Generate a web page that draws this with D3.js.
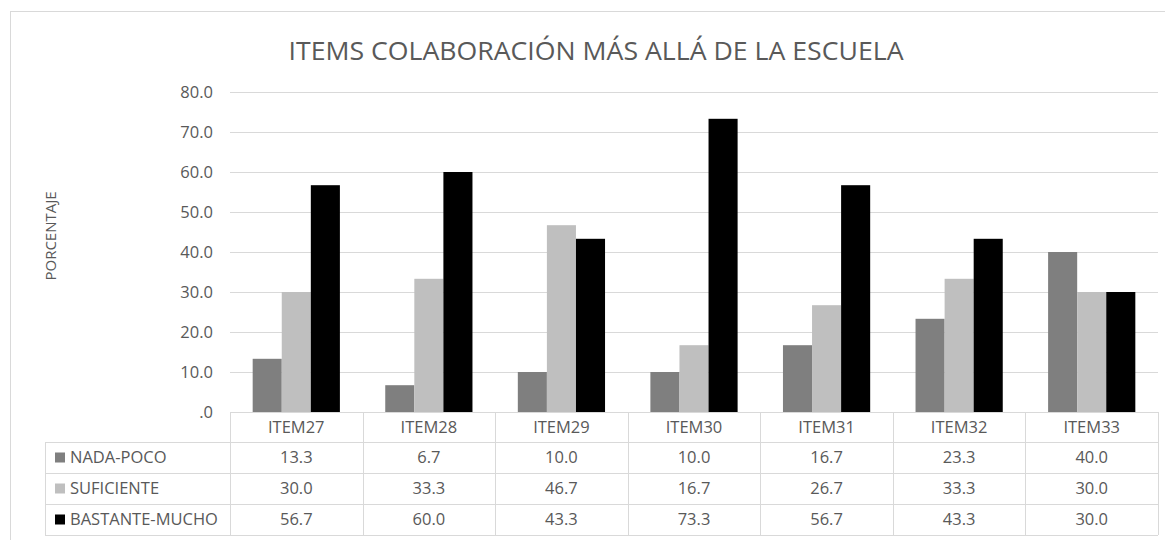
<!DOCTYPE html>
<html>
<head>
<meta charset="utf-8">
<script src="https://cdn.jsdelivr.net/npm/d3@7"></script>
<style>
  body { margin: 0; background: #fff; }
  text { font-family: "Open Sans", "Noto Sans", sans-serif; fill: #595959; }
</style>
</head>
<body>
<div id="chart"></div>
<script>
// Data
var categories = ["ITEM27", "ITEM28", "ITEM29", "ITEM30", "ITEM31", "ITEM32", "ITEM33"];
var seriesNames = ["NADA-POCO", "SUFICIENTE", "BASTANTE-MUCHO"];
var nadaPoco = [13.3, 6.7, 10.0, 10.0, 16.7, 23.3, 40.0];
var suficiente = [30.0, 33.3, 46.7, 16.7, 26.7, 33.3, 30.0];
var bastanteMucho = [56.7, 60.0, 43.3, 73.3, 56.7, 43.3, 30.0];
var yTicks = [0, 10, 20, 30, 40, 50, 60, 70, 80];

var seriesValues = [nadaPoco, suficiente, bastanteMucho];
var colors = ["#7f7f7f", "#bfbfbf", "#000000"];

var svgWidth = 1165;
var svgHeight = 540;

var plotLeft = 230, plotRight = 1158, plotTop = 92, plotBottom = 412;
var headerH = 30, rowH = 31, tableLeft = 45;

var svg = d3.select("#chart")
    .append("svg")
    .attr("width", svgWidth)
    .attr("height", svgHeight);

// chart frame (right and bottom edges fall outside the picture)
svg.append("rect")
    .attr("x", 10.5).attr("y", 11.5)
    .attr("width", svgWidth).attr("height", svgHeight)
    .attr("fill", "none")
    .attr("stroke", "#d9d9d9");

// scales
var xScale = d3.scaleBand()
    .domain(categories)
    .range([plotLeft, plotRight])
    .padding(0);

var xInner = d3.scaleBand()
    .domain(d3.range(seriesNames.length))
    .range([0, xScale.bandwidth()])
    .paddingInner(0)
    .paddingOuter(0.78);

var yScale = d3.scaleLinear()
    .domain([0, 80])
    .range([plotBottom, plotTop]);

// gridlines + y labels
var leftAxis = d3.axisLeft(yScale)
    .tickValues(yTicks)
    .tickSize(-(plotRight - plotLeft))
    .tickPadding(17)
    .tickFormat(d => d === 0 ? ".0" : d.toFixed(1));

var yAxis = svg.append("g")
    .attr("transform", `translate(${plotLeft}, 0)`)
    .call(leftAxis);
yAxis.select(".domain").remove();
yAxis.selectAll(".tick line").attr("stroke", "#d9d9d9");
yAxis.selectAll(".tick text")
    .attr("fill", "#595959")
    .style("font-size", "16.5px");

// bars
var groups = svg.selectAll(".cat")
    .data(categories)
    .enter()
    .append("g")
    .attr("transform", d => `translate(${xScale(d)}, 0)`);

groups.selectAll("rect")
    .data((d, i) => seriesValues.map((vals, s) => ({ s: s, v: vals[i] })))
    .enter()
    .append("rect")
    .attr("x", d => xInner(d.s))
    .attr("width", xInner.bandwidth())
    .attr("y", d => yScale(d.v))
    .attr("height", d => yScale(0) - yScale(d.v))
    .attr("fill", d => colors[d.s]);

// data table
var tableBottom = plotBottom + headerH + rowH * seriesNames.length;
var lineColor = "#d9d9d9";

// horizontal lines
svg.append("line")
    .attr("x1", plotLeft).attr("x2", plotRight)
    .attr("y1", plotBottom + 0.5).attr("y2", plotBottom + 0.5)
    .attr("stroke", lineColor);

seriesNames.forEach(function (name, r) {
    var y = plotBottom + headerH + rowH * r;
    svg.append("line")
        .attr("x1", tableLeft).attr("x2", plotRight)
        .attr("y1", y + 0.5).attr("y2", y + 0.5)
        .attr("stroke", lineColor);
});
svg.append("line")
    .attr("x1", tableLeft).attr("x2", plotRight)
    .attr("y1", tableBottom + 0.5).attr("y2", tableBottom + 0.5)
    .attr("stroke", lineColor);

// vertical lines
svg.append("line")
    .attr("x1", tableLeft + 0.5).attr("x2", tableLeft + 0.5)
    .attr("y1", plotBottom + headerH).attr("y2", tableBottom)
    .attr("stroke", lineColor);

categories.concat([null]).forEach(function (c) {
    var x = c === null ? plotRight : xScale(c);
    svg.append("line")
        .attr("x1", Math.round(x) + 0.5).attr("x2", Math.round(x) + 0.5)
        .attr("y1", plotBottom).attr("y2", tableBottom)
        .attr("stroke", lineColor);
});

// header labels
svg.selectAll(".catLabel")
    .data(categories)
    .enter()
    .append("text")
    .attr("x", d => xScale(d) + xScale.bandwidth() / 2)
    .attr("y", plotBottom + headerH / 2)
    .attr("dy", "0.35em")
    .attr("text-anchor", "middle")
    .style("font-size", "16.5px")
    .text(d => d);

// rows
seriesNames.forEach(function (name, r) {
    var yMid = plotBottom + headerH + rowH * r + rowH / 2;

    svg.append("rect")
        .attr("x", 55).attr("y", yMid - 5)
        .attr("width", 10).attr("height", 10)
        .attr("fill", colors[r]);

    svg.append("text")
        .attr("x", 70)
        .attr("y", yMid)
        .attr("dy", "0.35em")
        .style("font-size", "16.5px")
        .text(name);

    svg.selectAll(".val" + r)
        .data(seriesValues[r])
        .enter()
        .append("text")
        .attr("x", (d, i) => xScale(categories[i]) + xScale.bandwidth() / 2)
        .attr("y", yMid)
        .attr("dy", "0.35em")
        .attr("text-anchor", "middle")
        .style("font-size", "16.5px")
        .text(d => d.toFixed(1));
});

// title
svg.append("text")
    .attr("x", 596)
    .attr("y", 60)
    .attr("text-anchor", "middle")
    .style("font-size", "26px")
    .attr("textLength", 615)
    .attr("lengthAdjust", "spacingAndGlyphs")
    .text("ITEMS COLABORACIÓN MÁS ALLÁ DE LA ESCUELA");

// y axis title
svg.append("text")
    .attr("transform", "translate(56, 236) rotate(-90)")
    .attr("text-anchor", "middle")
    .style("font-size", "15px")
    .text("PORCENTAJE");
</script>
</body>
</html>
